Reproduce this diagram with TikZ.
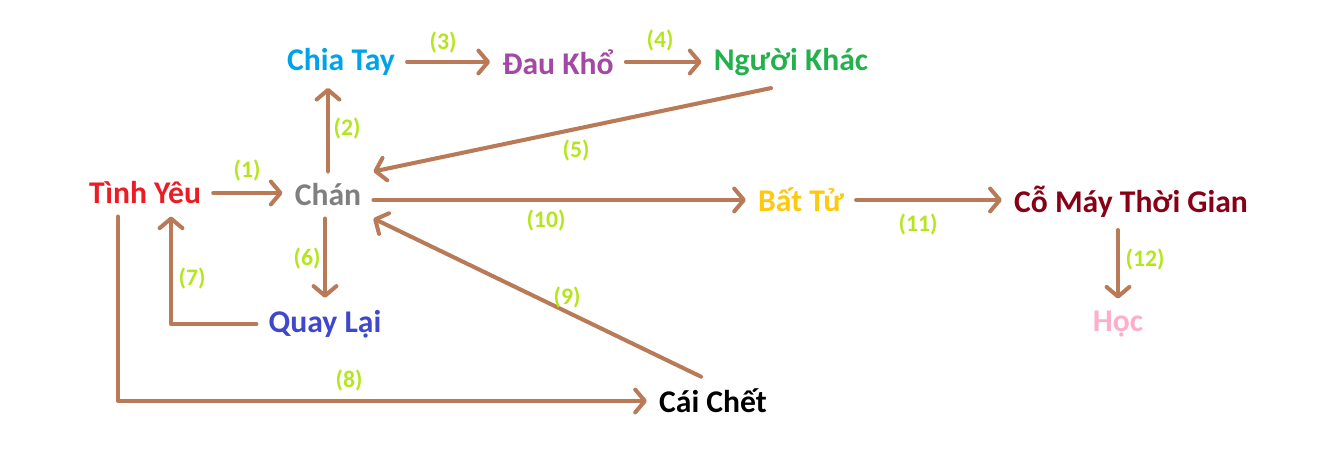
\documentclass[tikz,border=0pt]{standalone}
\usepackage{fontspec}
\setmainfont{Carlito}
\usepackage{xcolor}
\usepackage{tikz}
\usetikzlibrary{arrows.meta, calc}
\definecolor{lovered}{HTML}{ED1C24}
\definecolor{borgray}{HTML}{7F7F7F}
\definecolor{partblue}{HTML}{00A2E8}
\definecolor{painpurple}{HTML}{A349A4}
\definecolor{othergreen}{HTML}{22B14C}
\definecolor{immgold}{HTML}{FFC90E}
\definecolor{machred}{HTML}{880015}
\definecolor{learnpink}{HTML}{FFAEC9}
\definecolor{backblue}{HTML}{3F48CC}
\definecolor{arrowbrown}{HTML}{B97A57}
\definecolor{numlime}{HTML}{B5E61D}
\tikzset{
  word/.style={font=\fontsize{18}{20}\selectfont\bfseries, inner sep=0pt, outer sep=7pt},
  num/.style={font=\fontsize{13.5}{15}\selectfont\bfseries, text=numlime, inner sep=1pt},
  flow/.style={-{Straight Barb[length=5.5pt, width=13pt, round]}, draw=arrowbrown, line width=2.3pt, line cap=round, line join=round}
}
\begin{document}
\begin{tikzpicture}[x=0.02cm, y=-0.02cm]
\useasboundingbox (0,0) rectangle (1328,465);
% words
\node[word, text=lovered] (ty) at (145,193) {Tình Yêu};
\node[word, text=borgray] (chan) at (328,195) {Chán};
\node[word, text=partblue] (ct) at (341,62) {Chia Tay};
\node[word, text=painpurple] (dk) at (558,62) {Đau Khổ};
\node[word, text=othergreen] (nk) at (791,62) {Người Khác};
\node[word, text=backblue] (ql) at (325,324) {Quay Lại};
\node[word, text=black] (chet) at (713,401) {Cái Chết};
\node[word, text=immgold] (bt) at (801,200) {Bất Tử};
\node[word, text=machred] (cmtg) at (1131,202) {Cỗ Máy Thời Gian};
\node[word, text=learnpink] (hoc) at (1118,324) {Học};
% arrows
\draw[flow] (ty) -- (chan.west |- ty);
\draw[flow] (chan) -- (chan |- ct.south);
\draw[flow] (ct) -- (dk.west |- ct);
\draw[flow] (dk) -- (nk.west |- dk);
\draw[flow] ($(nk.south)+(-20,0)$) -- (chan.north east);
\draw[flow] (ql |- chan.south) -- (ql);
\draw[flow] (ql.west) -| ($(ty.south)+(26,0)$);
\draw[flow] ($(ty.south)+(-27,0)$) |- (chet.west);
\draw[flow] ($(chet.north)+(-12,0)$) -- (chan.south east);
\draw[flow] (chan.east |- bt.west) -- (bt.west);
\draw[flow] (bt) -- (cmtg.west |- bt);
\draw[flow] (hoc |- cmtg.south) -- (hoc);
% numbers
\node[num] (n1) at (247,170) {(1)};
\node[num] (n2) at (347,128) {(2)};
\node[num] (n3) at (443,42) {(3)};
\node[num] (n4) at (660,40) {(4)};
\node[num] (n5) at (576,150) {(5)};
\node[num] (n6) at (307,258) {(6)};
\node[num] (n7) at (192,278) {(7)};
\node[num] (n8) at (349,380) {(8)};
\node[num] (n9) at (567,297) {(9)};
\node[num] (n10) at (546,220) {(10)};
\node[num] (n11) at (918,224) {(11)};
\node[num] (n12) at (1145,259) {(12)};
\end{tikzpicture}
\end{document}
